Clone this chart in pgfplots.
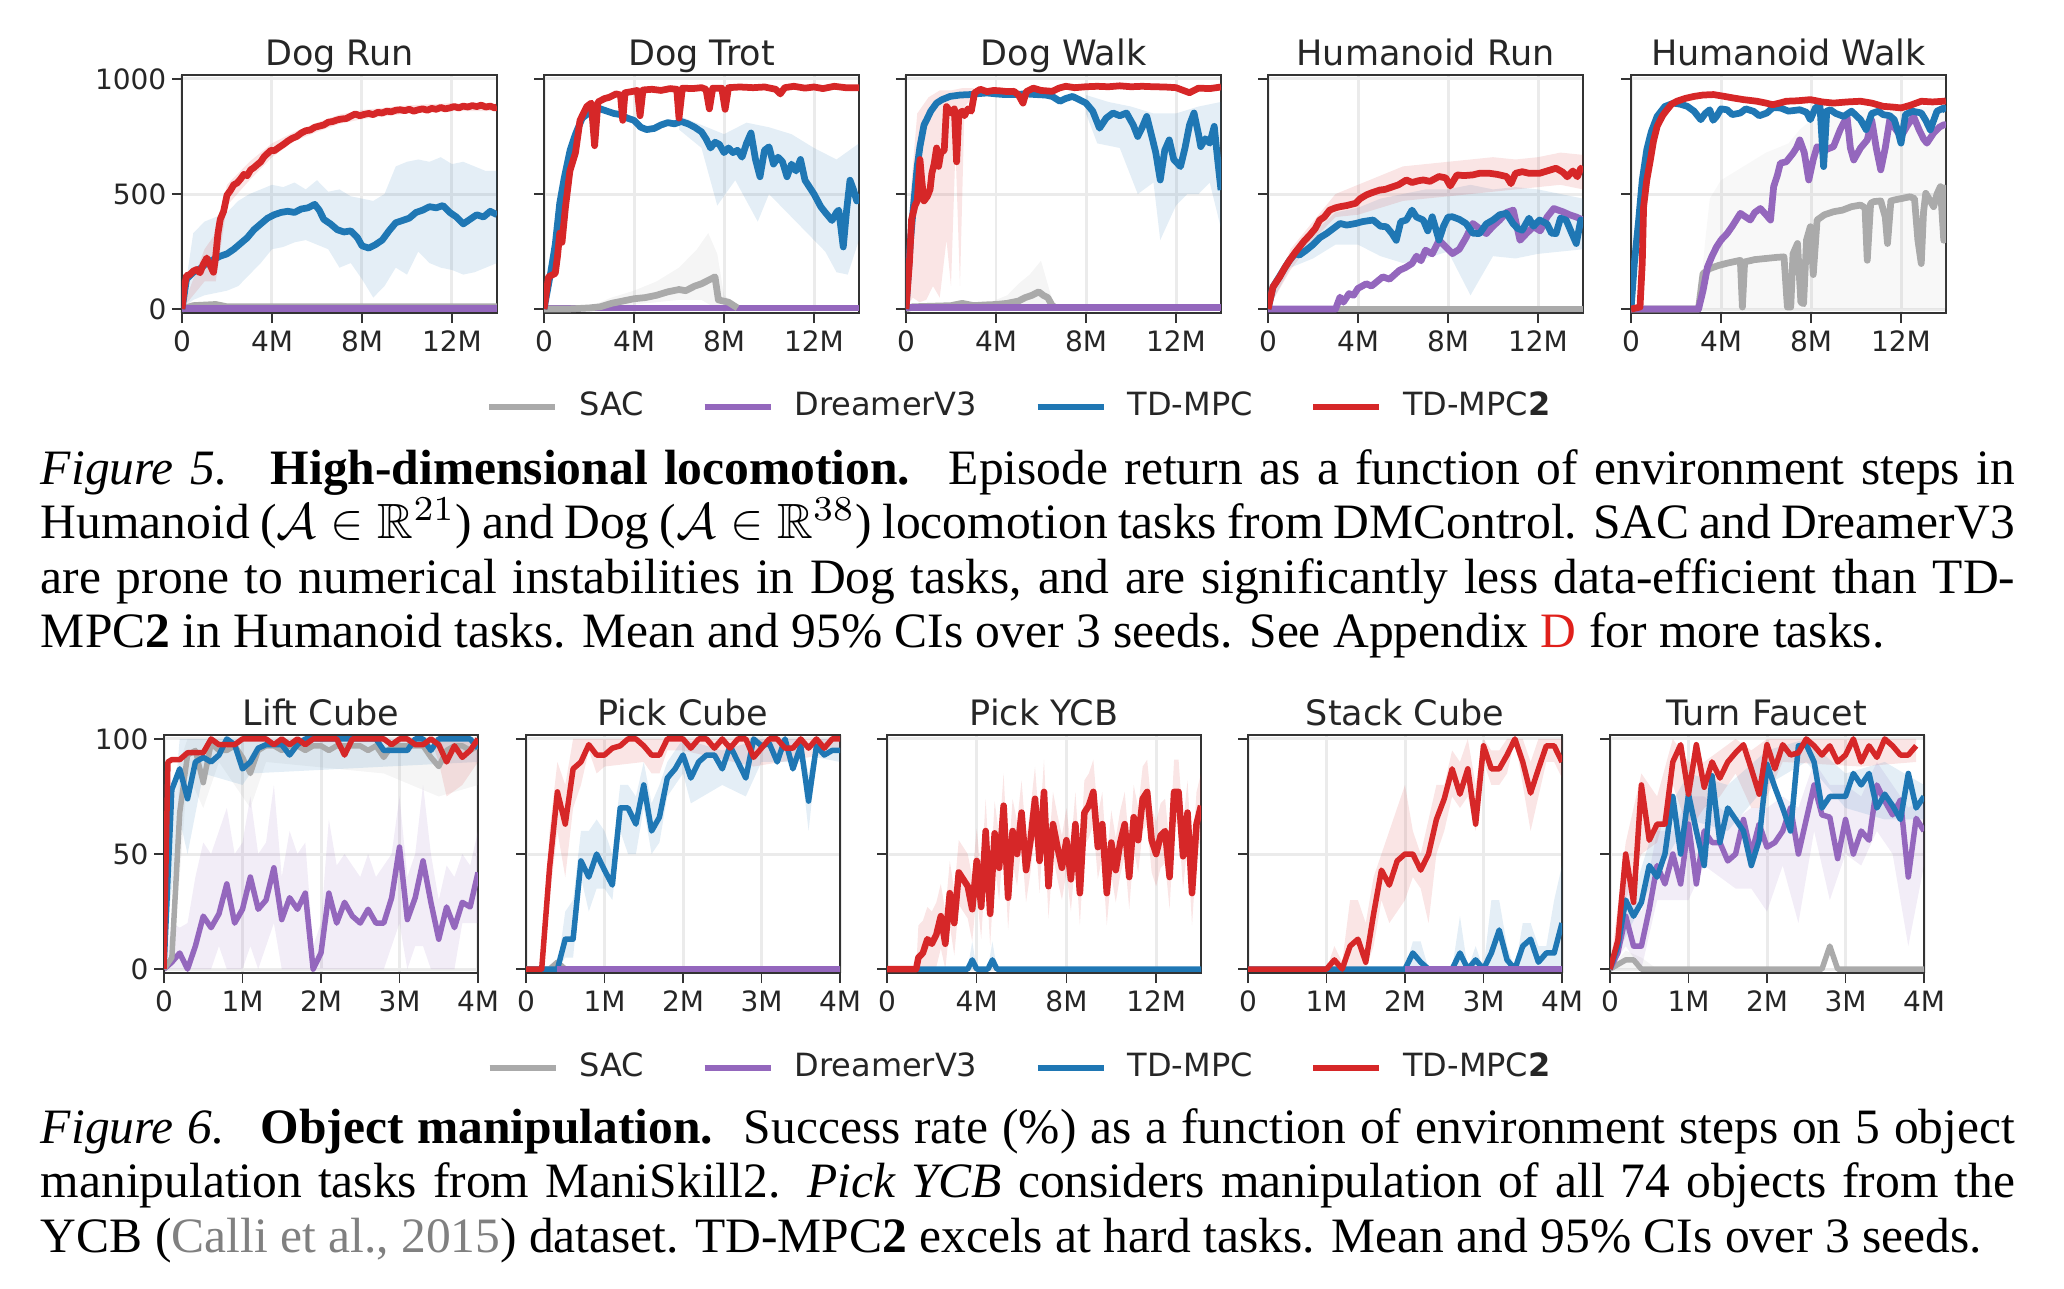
\documentclass[border=0pt]{standalone}
\usepackage{amssymb}
\usepackage{pgfplots}
\pgfplotsset{compat=1.18}
\usepackage{fontspec}
\setmainfont{Liberation Serif}
\newfontfamily\dejavu{DejaVu Sans}
\definecolor{cred}{HTML}{D62728}
\definecolor{cblue}{HTML}{1F77B4}
\definecolor{cpurple}{HTML}{9467BD}
\definecolor{cgray}{HTML}{AAAAAA}
\definecolor{txt}{HTML}{262626}
\definecolor{gridc}{HTML}{EBEBEB}
\definecolor{refred}{HTML}{E0201B}
\newcommand\tickf{\dejavu\fontsize{5.6}{6.7}\selectfont}
\newcommand\titf{\dejavu\fontsize{7.0}{8.4}\selectfont}
\newcommand\legf{\dejavu\fontsize{6.4}{7.7}\selectfont}
\newcommand\capf{\fontsize{9.9}{11.5}\selectfont}
\pgfplotsset{
  myax/.style={anchor=north west, scale only axis, height=47.6pt,
    axis line style={draw=black!80, line width=0.27pt},
    tick align=outside, tick pos=left, major tick length=2pt,
    tick style={draw=black!80, line width=0.27pt},
    grid=major, major grid style={draw=gridc, line width=0.6pt},
    ticklabel style={font=\tickf, text=txt},
    xticklabel style={yshift=2pt}, yticklabel style={xshift=2.4pt},
    every axis title shift=0pt,
    title style={font=\titf, text=txt, anchor=base, at={(0.5,1)}, yshift=2pt},
    legend image code/.code={\draw[##1,line width=1.2pt] (0pt,0pt) -- (13.2pt,0pt); \path[draw=none,fill=none] (0pt,0pt) -- (18pt,0pt);},
    legend columns=4, legend cell align=left},
  row1/.style={myax, width=63pt, xmin=0, xmax=14, ymin=-17, ymax=1017,
    xtick={0,4,8,12}, xticklabels={0,4M,8M,12M}, ytick={0,500,1000}, yticklabels={},
    every axis plot/.append style={line width=1.35pt, line join=round}},
  row2/.style={myax, width=62.8pt, xmin=0, xmax=4, ymin=-1.7, ymax=101.7,
    xtick={0,1,2,3,4}, xticklabels={0,1M,2M,3M,4M}, ytick={0,50,100}, yticklabels={},
    every axis plot/.append style={line width=1.1pt, line join=round}},
  band/.style={draw=none, fill=#1, fill opacity=0.12, forget plot},
  leg/.style={legend style={draw=none, fill=none, inner sep=0pt, outer sep=0pt, at={#1}, anchor=center,
    font=\legf, text=txt, nodes={inner sep=0pt, text=txt},
    /tikz/every even column/.append style={column sep=11.5pt}}},
}
\begin{document}
\begin{tikzpicture}
% ================= ROW 1 =================
\begin{axis}[row1, at={(36.4pt,-15pt)}, title={Dog Run}, yticklabels={0,500,1000}]
\addplot[band=cblue] coordinates {(0,0)(0.5,330)(1,380)(1.5,400)(2,420)(2.5,470)(3,500)(3.5,520)(4,540)(4.5,530)(5,550)(5.5,520)(6,560)(6.5,510)(7,520)(7.5,490)(8,480)(8.5,470)(9,500)(9.5,620)(10,640)(10.5,650)(11,640)(11.5,660)(12,630)(12.5,640)(13,620)(13.5,600)(14,600)(14,200)(13.5,180)(13,160)(12.5,150)(12,170)(11.5,180)(11,200)(10.5,250)(10,150)(9.5,180)(9,100)(8.5,50)(8,130)(7.5,200)(7,180)(6.5,260)(6,280)(5.5,300)(5,290)(4.5,270)(4,260)(3.5,200)(3,150)(2.5,100)(2,80)(1.5,70)(1,60)(0.5,40)(0,0)} --cycle;
\addplot[band=cred] coordinates {(0,0)(1,260)(1.5,330)(2,540)(3,640)(4,720)(5,770)(6,810)(7,845)(8,865)(10,885)(12,895)(14,890)(14,860)(12,860)(10,850)(8,825)(7,805)(6,770)(5,730)(4,660)(3,560)(2,450)(1.5,120)(1,120)(0,0)} --cycle;
\addplot[cgray, forget plot] coordinates {(0,0)(0.5,15)(1.5,20)(2,10)(14,10)};
\addplot[cpurple, forget plot] coordinates {(0,4)(14,4)};
\addplot[cblue, forget plot] coordinates {(0,0)(0.2,130)(0.5,160)(0.8,175)(1.1,200)(1.4,215)(1.7,230)(2.0,240)(2.3,260)(2.6,285)(2.9,310)(3.2,345)(3.5,370)(3.8,395)(4.1,410)(4.4,420)(4.7,425)(5.0,420)(5.3,435)(5.6,440)(5.9,455)(6.1,430)(6.3,390)(6.6,370)(6.9,345)(7.2,335)(7.5,340)(7.8,310)(8.0,275)(8.3,265)(8.6,280)(8.9,300)(9.2,340)(9.5,375)(9.8,385)(10.1,395)(10.4,420)(10.7,430)(11.0,445)(11.3,440)(11.6,450)(11.9,420)(12.2,400)(12.5,370)(12.8,390)(13.1,410)(13.4,400)(13.7,425)(14.0,410)};
\addplot[cred, forget plot] coordinates {(0,0)(0.1,95)(0.2,145)(0.35,150)(0.5,165)(0.65,172)(0.8,158)(0.95,195)(1.1,222)(1.25,190)(1.4,160)(1.5,230)(1.6,330)(1.7,390)(1.85,425)(2.0,495)(2.15,515)(2.3,540)(2.45,548)(2.6,565)(2.75,585)(2.9,580)(3.05,605)(3.2,615)(3.35,628)(3.5,640)(3.65,662)(3.8,676)(3.95,690)(4.1,688)(4.3,702)(4.5,715)(4.7,730)(4.9,742)(5.1,750)(5.3,765)(5.5,775)(5.7,778)(5.9,790)(6.1,795)(6.3,800)(6.5,812)(6.7,815)(6.9,822)(7.1,826)(7.3,828)(7.5,838)(7.7,848)(7.9,840)(8.1,846)(8.3,850)(8.5,845)(8.7,855)(8.9,852)(9.1,860)(9.3,857)(9.5,864)(9.7,866)(9.9,862)(10.1,868)(10.3,860)(10.5,866)(10.7,870)(10.9,864)(11.1,872)(11.3,868)(11.5,876)(11.7,870)(11.9,874)(12.1,880)(12.3,874)(12.5,882)(12.7,878)(12.9,884)(13.1,880)(13.3,886)(13.5,878)(13.7,882)(13.9,874)(14.0,878)};
\end{axis}

\begin{axis}[row1, at={(108.8pt,-15pt)}, title={Dog Trot}]
\addplot[band=cgray] coordinates {(2,10)(3,50)(4,80)(5,120)(6,180)(6.8,260)(7.3,330)(7.7,240)(8,60)(8.6,10)(8.6,0)(7.7,0)(7,40)(6,40)(5,30)(4,20)(3,5)(2,0)} --cycle;
\addplot[band=cblue] coordinates {(6,840)(7,800)(8,760)(9,810)(10,790)(11,760)(12,700)(13,650)(14,720)(14,300)(13.5,150)(13,160)(12.5,250)(12,300)(11,400)(10,500)(9.5,380)(8.5,560)(7.7,450)(7,700)(6,780)} --cycle;
\addplot[cpurple, forget plot] coordinates {(0,5)(14,5)};
\addplot[cgray, forget plot] coordinates {(0,0)(1,0)(2,5)(2.5,10)(3,25)(3.5,35)(4,45)(4.5,50)(5,60)(5.5,75)(6,85)(6.3,80)(6.7,100)(7.0,110)(7.3,125)(7.6,140)(7.75,40)(8.2,30)(8.6,5)};
\addplot[cblue, forget plot] coordinates {(0,0)(0.3,160)(0.5,280)(0.7,460)(0.9,570)(1.16,690)(1.4,760)(1.7,830)(1.9,845)(2.2,860)(2.5,870)(2.8,860)(3.1,850)(3.4,845)(3.7,830)(4.0,820)(4.3,790)(4.56,780)(4.9,785)(5.2,800)(5.5,810)(5.8,805)(6.1,815)(6.4,805)(6.7,790)(7.0,770)(7.2,740)(7.4,700)(7.6,725)(7.8,715)(8.0,680)(8.2,700)(8.4,680)(8.6,690)(8.8,660)(9.0,720)(9.2,765)(9.4,650)(9.6,575)(9.8,690)(10.0,705)(10.2,630)(10.4,660)(10.6,640)(10.8,575)(11.0,630)(11.2,600)(11.4,650)(11.6,560)(11.8,530)(12.0,500)(12.3,445)(12.5,420)(12.8,385)(13.0,420)(13.1,430)(13.2,350)(13.3,270)(13.45,430)(13.6,560)(13.75,520)(13.9,470)(14.0,500)};
\addplot[cred, forget plot] coordinates {(0,0)(0.2,140)(0.5,155)(0.6,230)(0.7,330)(0.8,290)(0.95,440)(1.15,600)(1.4,680)(1.6,820)(1.9,880)(2.1,895)(2.25,710)(2.4,900)(2.7,915)(2.9,920)(3.2,935)(3.4,930)(3.5,820)(3.6,940)(3.9,945)(4.15,950)(4.27,840)(4.4,952)(4.8,955)(5.2,950)(5.6,958)(5.9,955)(6.0,830)(6.15,960)(6.6,958)(7.0,962)(7.2,955)(7.35,870)(7.5,960)(7.9,960)(8.05,868)(8.2,962)(8.7,965)(9.3,962)(9.8,965)(10.3,955)(10.5,935)(10.7,962)(11.1,968)(11.6,960)(12.0,965)(12.4,958)(12.9,968)(13.4,962)(14.0,962)};
\end{axis}

\begin{axis}[row1, at={(181.2pt,-15pt)}, title={Dog Walk}, leg={(0.357,-0.395)}]
\addlegendimage{cgray}\addlegendentry{SAC}
\addlegendimage{cpurple}\addlegendentry{DreamerV3}
\addlegendimage{cblue}\addlegendentry{TD-MPC}
\addlegendimage{cred}\addlegendentry{TD-MPC\textbf{2}}
\addplot[band=cred] coordinates {(0,0)(0.2,500)(0.5,850)(1,920)(1.5,950)(2,950)(2.5,960)(3,960)(3,920)(2.6,880)(2.4,100)(2.2,700)(2.0,100)(1.8,300)(1.5,50)(1.2,100)(0.9,40)(0.6,30)(0.3,50)(0,0)} --cycle;
\addplot[band=cblue] coordinates {(8,930)(9,900)(10,880)(11,850)(12,850)(13,880)(14,900)(14,350)(13.5,550)(13,500)(12.5,500)(12,450)(11.3,300)(11,550)(10.3,500)(9.5,700)(8.5,720)(8,850)} --cycle;
\addplot[band=cgray] coordinates {(3.5,20)(4.5,60)(5,110)(5.5,150)(6,210)(6.5,40)(6.5,5)(5,10)(3.5,5)} --cycle;
\addplot[cgray, forget plot] coordinates {(0,0)(0.3,10)(1,12)(2,15)(2.5,25)(3,15)(3.5,18)(4,20)(4.5,25)(5,35)(5.3,50)(5.6,60)(5.9,75)(6.1,60)(6.3,50)(6.5,15)(6.6,10)};
\addplot[cpurple, forget plot] coordinates {(0,8)(14,8)};
\addplot[cblue, forget plot] coordinates {(0,0)(0.2,300)(0.33,445)(0.5,620)(0.62,706)(0.8,800)(0.92,823)(1.1,860)(1.36,895)(1.6,910)(1.96,924)(2.4,930)(2.84,932)(3.2,936)(3.6,939)(4.0,935)(4.4,932)(4.8,932)(5.3,935)(5.8,932)(6.2,930)(6.5,924)(6.84,903)(7.1,915)(7.4,924)(7.7,910)(8.0,895)(8.3,860)(8.6,786)(8.9,830)(9.2,852)(9.5,840)(9.8,852)(10.1,800)(10.3,750)(10.5,790)(10.7,837)(10.9,760)(11.1,680)(11.3,561)(11.5,690)(11.7,735)(11.9,650)(12.2,619)(12.4,700)(12.6,800)(12.8,852)(13.0,760)(13.1,706)(13.3,740)(13.5,721)(13.7,794)(13.85,650)(14.0,517)};
\addplot[cred, forget plot] coordinates {(0,0)(0.15,200)(0.25,390)(0.4,450)(0.5,470)(0.62,650)(0.7,560)(0.8,470)(0.95,490)(1.07,520)(1.15,590)(1.25,630)(1.36,700)(1.45,620)(1.55,680)(1.7,690)(1.8,880)(1.95,860)(2.05,850)(2.15,870)(2.25,640)(2.35,850)(2.5,860)(2.6,840)(2.75,870)(2.9,860)(3.05,940)(3.3,955)(3.6,945)(3.9,950)(4.2,948)(4.5,945)(4.8,946)(5.0,930)(5.2,895)(5.35,945)(5.66,960)(6.0,950)(6.5,946)(6.8,960)(7.1,968)(7.5,962)(8.0,966)(8.5,968)(9.0,966)(9.5,970)(10.0,966)(10.5,968)(11.0,966)(11.5,965)(12.0,962)(12.6,940)(13.0,960)(13.5,958)(14.0,965)};
\end{axis}

\begin{axis}[row1, at={(253.6pt,-15pt)}, title={Humanoid Run}]
\addplot[band=cblue] coordinates {(0,0)(1,240)(2,330)(3,420)(4,440)(5,480)(6,500)(7,520)(8,520)(9,540)(10,520)(11,530)(12,520)(13,500)(14,480)(14,260)(13,250)(12,240)(11,220)(10,230)(9,60)(8,250)(7,220)(6,200)(5,230)(4,280)(3,280)(2,220)(1,180)(0,0)} --cycle;
\addplot[band=cred] coordinates {(0,0)(1,260)(2,380)(3,500)(4,540)(5,580)(6,620)(7,630)(8,640)(9,650)(10,660)(11,650)(12,660)(13,680)(14,670)(14,520)(13,540)(12,530)(11,520)(10,510)(9,500)(8,490)(7,480)(6,470)(5,440)(4,410)(3,400)(2,300)(1,170)(0,0)} --cycle;
\addplot[cgray, forget plot] coordinates {(0,0)(14,0)};
\addplot[cpurple, forget plot] coordinates {(0,0)(3.0,0)(3.2,52)(3.35,30)(3.6,67)(3.8,60)(4.0,90)(4.37,110)(4.6,100)(5.1,140)(5.4,130)(5.85,169)(6.1,180)(6.4,198)(6.6,230)(6.8,210)(7.0,256)(7.3,240)(7.6,299)(7.9,270)(8.2,241)(8.5,260)(8.8,310)(9.1,372)(9.4,350)(9.7,328)(10.0,360)(10.3,387)(10.6,420)(10.9,430)(11.2,299)(11.5,330)(11.8,358)(12.1,340)(12.4,400)(12.7,437)(13.1,423)(13.4,410)(13.7,400)(14.0,387)};
\addplot[cblue, forget plot] coordinates {(0,0)(0.22,96)(0.5,140)(0.75,180)(0.96,212)(1.2,240)(1.4,235)(1.7,256)(2.0,280)(2.3,310)(2.6,328)(2.9,350)(3.2,372)(3.5,365)(3.9,372)(4.2,380)(4.67,387)(5.0,360)(5.26,358)(5.5,330)(5.7,299)(5.9,380)(6.15,387)(6.4,430)(6.6,400)(6.9,387)(7.1,340)(7.3,401)(7.6,300)(7.8,360)(8.0,400)(8.2,401)(8.5,390)(8.8,372)(9.1,330)(9.4,328)(9.7,370)(10.0,387)(10.3,410)(10.6,416)(10.9,370)(11.1,350)(11.3,343)(11.6,395)(11.8,360)(12.07,387)(12.4,370)(12.6,330)(12.8,328)(13.0,395)(13.25,387)(13.5,330)(13.7,285)(13.9,387)(14.0,370)};
\addplot[cred, forget plot] coordinates {(0,0)(0.22,96)(0.52,140)(0.75,180)(0.96,212)(1.2,245)(1.4,270)(1.6,295)(1.85,321)(2.1,350)(2.3,387)(2.5,400)(2.74,430)(3.0,440)(3.2,445)(3.5,450)(3.9,460)(4.1,480)(4.37,496)(4.6,505)(4.96,517)(5.2,520)(5.56,532)(5.8,540)(6.15,561)(6.4,550)(6.7,558)(6.9,561)(7.2,555)(7.6,576)(7.9,570)(8.1,535)(8.4,583)(8.7,580)(9.1,583)(9.4,590)(9.85,590)(10.2,585)(10.6,576)(10.8,545)(11.0,590)(11.3,597)(11.6,590)(12.07,590)(12.4,600)(12.8,612)(13.1,595)(13.3,575)(13.55,600)(13.75,575)(13.9,612)(14.0,600)};
\end{axis}

\begin{axis}[row1, at={(326.2pt,-15pt)}, title={Humanoid Walk}]
\addplot[draw=none, fill=cgray, fill opacity=0.08, forget plot] coordinates {(3,0)(3.3,300)(3.5,480)(4,560)(5,620)(6,680)(7,720)(7.5,780)(8,820)(9,850)(10,860)(11,880)(12,870)(13,880)(14,880)(14,0)(3,0)} --cycle;
\addplot[cgray, forget plot] coordinates {(0,0)(3.0,0)(3.2,154)(3.5,176)(3.9,190)(4.3,200)(4.86,212)(4.95,9)(5.05,205)(5.5,215)(6.0,220)(6.5,225)(6.8,227)(6.95,9)(7.1,9)(7.2,240)(7.4,285)(7.55,30)(7.67,23)(7.8,300)(7.97,358)(8.1,150)(8.27,387)(8.6,410)(9.0,423)(9.4,430)(9.8,445)(10.2,452)(10.4,440)(10.5,212)(10.65,460)(10.8,467)(11.1,470)(11.3,400)(11.4,285)(11.55,470)(11.7,474)(12.0,480)(12.4,488)(12.6,480)(12.75,300)(12.9,198)(13.0,420)(13.1,503)(13.3,470)(13.45,445)(13.6,500)(13.75,532)(13.9,299)(14.0,540)};
\addplot[cpurple, forget plot] coordinates {(0,0)(3.0,0)(3.2,80)(3.4,183)(3.6,230)(3.8,270)(4.0,300)(4.27,328)(4.5,360)(4.86,416)(5.1,400)(5.3,387)(5.5,420)(5.75,437)(6.0,410)(6.2,387)(6.34,532)(6.5,580)(6.64,634)(6.9,640)(7.2,677)(7.35,700)(7.5,735)(7.7,680)(7.9,561)(8.1,650)(8.27,706)(8.6,690)(9.0,706)(9.3,780)(9.6,837)(9.75,700)(9.9,648)(10.2,700)(10.5,735)(10.7,820)(10.9,700)(11.1,605)(11.3,700)(11.5,823)(11.7,790)(12.0,750)(12.3,800)(12.56,837)(12.8,780)(13.0,740)(13.15,721)(13.45,765)(13.7,790)(13.9,801)(14.0,800)};
\addplot[cblue, forget plot] coordinates {(0,0)(0.15,200)(0.34,387)(0.5,560)(0.7,692)(0.9,770)(1.16,837)(1.5,880)(1.9,895)(2.2,890)(2.5,881)(2.8,860)(3.1,823)(3.3,850)(3.5,866)(3.65,820)(3.8,837)(4.0,870)(4.27,866)(4.5,845)(4.86,852)(5.1,870)(5.45,859)(5.7,840)(6.04,852)(6.3,875)(6.64,874)(7.0,860)(7.5,866)(7.8,855)(7.97,823)(8.2,875)(8.4,881)(8.56,619)(8.7,860)(8.86,866)(9.1,850)(9.45,837)(9.8,860)(10.2,823)(10.45,780)(10.7,850)(11.0,860)(11.2,845)(11.5,840)(11.7,823)(11.9,760)(12.0,721)(12.2,845)(12.5,860)(12.9,852)(13.1,820)(13.3,779)(13.6,860)(13.9,874)(14.0,860)};
\addplot[cred, forget plot] coordinates {(0,0)(0.4,9)(0.5,200)(0.56,445)(0.7,560)(0.86,648)(1.0,730)(1.16,794)(1.4,840)(1.6,866)(1.8,890)(2.04,903)(2.4,915)(2.8,924)(3.2,930)(3.67,932)(4.1,925)(4.56,917)(5.0,910)(5.6,903)(6.0,895)(6.3,888)(6.6,895)(6.9,903)(7.4,905)(7.97,910)(8.5,900)(9.0,895)(9.6,900)(10.2,903)(10.7,895)(11.2,881)(11.6,878)(12.0,874)(12.4,885)(12.9,903)(13.4,900)(13.9,903)(14.0,905)};
\end{axis}

% ================= ROW 2 =================
\begin{axis}[row2, at={(32.8pt,-147pt)}, title={Lift Cube}, yticklabels={0,50,100}]
\addplot[band=cpurple] coordinates {(0,0)(0.1,20)(0.2,18)(0.3,20)(0.4,40)(0.5,55)(0.6,50)(0.7,60)(0.8,70)(0.9,50)(1.0,55)(1.1,75)(1.2,50)(1.3,55)(1.4,80)(1.5,40)(1.6,60)(1.7,50)(1.8,55)(1.9,10)(2.0,20)(2.1,65)(2.2,45)(2.3,50)(2.4,45)(2.5,40)(2.6,50)(2.7,40)(2.8,45)(2.9,50)(3.0,75)(3.1,40)(3.2,50)(3.3,80)(3.4,50)(3.5,30)(3.6,45)(3.7,40)(3.8,50)(3.9,45)(4.0,60)(4.0,20)(3.9,20)(3.8,20)(3.7,0)(3.6,0)(3.5,0)(3.4,0)(3.3,10)(3.2,10)(3.1,0)(3.0,20)(2.9,10)(2.8,0)(2.0,0)(1.5,0)(1.4,20)(1.3,10)(1.2,0)(1.1,10)(1.0,0)(0.8,0)(0.7,10)(0.6,0)(0,0)} --cycle;
\addplot[band=cgray] coordinates {(0.1,5)(0.2,90)(0.3,100)(4,100)(4,80)(3.5,75)(2.8,85)(1.3,90)(1.1,70)(0.7,90)(0.5,70)(0.3,85)(0.2,40)(0.1,0)} --cycle;
\addplot[band=cblue] coordinates {(0.05,40)(0.2,100)(1,100)(4,100)(4,90)(1.1,85)(1,80)(0.5,85)(0.3,50)(0.2,65)(0.05,20)} --cycle;
\addplot[band=cred] coordinates {(3.4,100)(4,100)(4,90)(3.8,80)(3.6,75)(3.5,90)(3.4,100)} --cycle;
\addplot[cpurple, forget plot] coordinates {(0,0)(0.1,3)(0.2,7)(0.3,0)(0.4,10)(0.5,23)(0.6,18)(0.7,24)(0.8,37)(0.9,20)(1.0,26)(1.1,40)(1.2,26)(1.3,30)(1.4,44)(1.5,21.5)(1.6,31)(1.7,26)(1.8,33)(1.9,0)(2.0,7)(2.1,33)(2.2,20)(2.3,29)(2.4,23)(2.5,20)(2.6,26)(2.7,20)(2.8,20)(2.9,31)(3.0,53)(3.1,21.5)(3.2,31)(3.3,47)(3.4,29)(3.5,13)(3.6,27)(3.7,18)(3.8,29)(3.9,27)(4.0,42)};
\addplot[cgray, forget plot] coordinates {(0,0)(0.1,5)(0.2,68)(0.3,93)(0.4,95)(0.5,81)(0.6,98)(0.7,95)(0.8,95)(0.9,97)(1.0,92)(1.1,85)(1.2,95)(1.3,97)(1.4,97)(1.5,95)(1.6,97)(1.7,97)(1.8,95)(1.9,97)(2.0,97)(2.1,95)(2.2,97)(2.3,97)(2.4,97)(2.5,97)(2.6,95)(2.7,97)(2.8,92)(2.9,97)(3.0,97)(3.1,97)(3.2,97)(3.3,97)(3.4,92)(3.5,88)(3.6,95)(3.7,97)(3.8,97)(3.9,95)(4.0,97)};
\addplot[cblue, forget plot] coordinates {(0,0)(0.1,78)(0.2,87)(0.3,74)(0.4,90)(0.5,92)(0.6,90)(0.7,93)(0.8,100)(0.9,97.5)(1.0,87)(1.1,90)(1.2,96)(1.3,97.5)(1.4,97.5)(1.5,97.5)(1.6,93)(1.7,97.5)(1.8,100)(1.9,100)(2.0,100)(2.1,100)(2.2,100)(2.3,100)(2.4,100)(2.5,100)(2.6,100)(2.7,100)(2.8,95)(2.9,95)(3.0,95)(3.1,95)(3.2,100)(3.3,100)(3.4,95)(3.5,100)(3.6,100)(3.7,100)(3.8,100)(3.9,100)(4.0,96)};
\addplot[cred, forget plot] coordinates {(0,0)(0.05,90)(0.1,91)(0.2,91)(0.3,94)(0.4,94)(0.5,94)(0.6,100)(0.7,97.5)(0.8,97.5)(0.9,97.5)(1.0,100)(1.1,100)(1.2,100)(1.3,100)(1.4,97.5)(1.5,100)(1.6,97.5)(1.7,100)(1.8,97.5)(1.9,100)(2.0,100)(2.1,100)(2.2,100)(2.3,93)(2.4,100)(2.5,100)(2.6,100)(2.7,100)(2.8,100)(2.9,97.5)(3.0,100)(3.1,100)(3.2,97.5)(3.3,97.5)(3.4,100)(3.5,97.5)(3.6,90)(3.7,97)(3.8,92)(3.9,95)(4.0,100)};
\end{axis}

\begin{axis}[row2, at={(105.2pt,-147pt)}, title={Pick Cube}]
\addplot[band=cred] coordinates {(0.2,0)(0.3,60)(0.4,90)(0.5,80)(0.6,100)(4,100)(4,95)(3.6,92)(2.9,88)(2.0,95)(1.8,95)(1.7,85)(1.6,85)(1.5,90)(1.0,88)(0.9,85)(0.8,95)(0.7,80)(0.6,70)(0.5,40)(0.4,60)(0.3,30)(0.2,0)} --cycle;
\addplot[band=cblue] coordinates {(0.4,0)(0.5,25)(0.6,30)(0.7,60)(0.8,60)(0.9,65)(1.0,60)(1.1,50)(1.2,80)(1.3,80)(1.4,75)(1.5,90)(1.6,72)(1.7,80)(1.8,90)(1.9,95)(2.0,100)(2.5,95)(3.0,100)(3.5,100)(3.6,85)(3.7,100)(4,100)(4,90)(3.7,92)(3.6,60)(3.5,90)(3.0,90)(2.8,75)(2.5,80)(2.1,72)(2.0,85)(1.9,80)(1.8,75)(1.7,55)(1.6,50)(1.5,70)(1.4,50)(1.3,50)(1.2,60)(1.1,30)(1.0,35)(0.9,35)(0.8,25)(0.7,40)(0.6,5)(0.5,5)(0.4,0)} --cycle;
\addplot[cgray, forget plot] coordinates {(0,0)(0.3,0)(0.4,3)(0.5,0)(4,0)};
\addplot[cblue, forget plot] coordinates {(0,0)(0.4,0)(0.5,13)(0.6,13)(0.7,47)(0.8,40)(0.9,50)(1.0,43)(1.1,36.5)(1.2,70)(1.3,70)(1.4,63)(1.5,80)(1.6,60)(1.7,66)(1.8,83)(1.9,87)(2.0,93)(2.1,83)(2.2,90)(2.3,93)(2.4,93)(2.5,87)(2.6,97)(2.7,90)(2.8,83)(2.9,100)(3.0,97)(3.1,98)(3.2,90)(3.3,100)(3.4,87)(3.5,97)(3.6,73)(3.7,97)(3.8,93)(3.9,95)(4.0,95)};
\addplot[cpurple, forget plot] coordinates {(0.4,0)(4,0)};
\addplot[cred, forget plot] coordinates {(0,0)(0.1,0)(0.2,0)(0.3,44)(0.4,77)(0.5,63)(0.6,87)(0.7,90)(0.8,97.5)(0.9,93)(1.0,93)(1.1,96)(1.2,97)(1.3,100)(1.4,100)(1.5,97)(1.6,93)(1.7,93)(1.8,100)(1.9,100)(2.0,100)(2.1,96)(2.2,100)(2.3,100)(2.4,96)(2.5,100)(2.6,96)(2.7,100)(2.8,100)(2.9,92)(3.0,96)(3.1,100)(3.2,100)(3.3,96)(3.4,96)(3.5,100)(3.6,96)(3.7,100)(3.8,96)(3.9,100)(4.0,100)};
\end{axis}

\begin{axis}[row2, at={(177.4pt,-147pt)}, title={Pick YCB}, xmax=14, xtick={0,4,8,12}, xticklabels={0,4M,8M,12M}, leg={(0.419,-0.399)}]
\addlegendimage{cgray}\addlegendentry{SAC}
\addlegendimage{cpurple}\addlegendentry{DreamerV3}
\addlegendimage{cblue}\addlegendentry{TD-MPC}
\addlegendimage{cred}\addlegendentry{TD-MPC\textbf{2}}
\addplot[band=cred] coordinates {(1.3,0)(1.4,19)(1.6,21)(1.8,27)(2.0,25)(2.2,29)(2.4,37)(2.6,25)(2.8,47)(3.0,34)(3.2,56)(3.4,53)(3.6,50)(3.8,40)(4.0,61)(4.2,41)(4.4,74)(4.6,38)(4.8,73)(5.0,58)(5.2,85)(5.4,45)(5.6,74)(5.8,64)(6.0,82)(6.2,57)(6.4,70)(6.6,88)(6.8,61)(7.0,91)(7.2,50)(7.4,77)(7.6,67)(7.8,58)(8.0,70)(8.2,53)(8.4,77)(8.6,47)(8.8,82)(9.0,85)(9.2,91)(9.4,67)(9.6,77)(9.8,47)(10.0,69)(10.2,57)(10.4,69)(10.6,77)(10.8,54)(11.0,80)(11.2,70)(11.4,88)(11.6,91)(11.8,70)(12.0,64)(12.2,72)(12.4,74)(12.6,54)(12.8,91)(13.0,91)(13.2,63)(13.4,82)(13.6,47)(13.8,77)(14.0,85)(14.0,57)(13.8,49)(13.6,19)(13.4,54)(13.2,35)(13.0,63)(12.8,63)(12.6,26)(12.4,46)(12.2,44)(12.0,36)(11.8,42)(11.6,63)(11.4,60)(11.2,42)(11.0,52)(10.8,26)(10.6,49)(10.4,41)(10.2,29)(10.0,41)(9.8,19)(9.6,49)(9.4,39)(9.2,63)(9.0,57)(8.8,54)(8.6,19)(8.4,49)(8.2,25)(8.0,42)(7.8,30)(7.6,39)(7.4,49)(7.2,22)(7.0,63)(6.8,33)(6.6,60)(6.4,42)(6.2,29)(6.0,54)(5.8,36)(5.6,46)(5.4,17)(5.2,57)(5.0,30)(4.8,45)(4.6,10)(4.4,46)(4.2,13)(4.0,33)(3.8,12)(3.6,22)(3.4,25)(3.2,28)(3.0,6)(2.8,19)(2.6,0)(2.4,9)(2.2,1)(2.0,0)(1.3,0)} --cycle;
\addplot[band=cblue] coordinates {(3.6,0)(3.8,12)(4.0,0)(4.5,0)(4.7,12)(4.9,0)} --cycle;
\addplot[cblue, forget plot] coordinates {(0,0)(3.6,0)(3.8,4)(4.0,0)(4.5,0)(4.7,4)(4.9,0)(14,0)};
\addplot[cred, forget plot, line width=1.3pt] coordinates {(0,0)(1.3,0)(1.4,5)(1.6,7)(1.8,13)(2.0,11)(2.2,15)(2.4,23)(2.6,11)(2.8,33)(3.0,20)(3.2,42)(3.4,39)(3.6,36)(3.8,26)(4.0,47)(4.2,27)(4.4,60)(4.6,24)(4.8,59)(5.0,44)(5.2,71)(5.4,31)(5.6,60)(5.8,50)(6.0,68)(6.2,43)(6.4,56)(6.6,74)(6.8,47)(7.0,77)(7.2,36)(7.4,63)(7.6,53)(7.8,44)(8.0,56)(8.2,39)(8.4,63)(8.6,33)(8.8,68)(9.0,71)(9.2,77)(9.4,53)(9.6,63)(9.8,33)(10.0,55)(10.2,43)(10.4,55)(10.6,63)(10.8,40)(11.0,66)(11.2,56)(11.4,74)(11.6,77)(11.8,56)(12.0,50)(12.2,58)(12.4,60)(12.6,40)(12.8,77)(13.0,77)(13.2,49)(13.4,68)(13.6,33)(13.8,63)(14.0,71)};
\end{axis}

\begin{axis}[row2, at={(249.6pt,-147pt)}, title={Stack Cube}]
\addplot[band=cred] coordinates {(1.0,0)(1.1,10)(1.2,3)(1.3,30)(1.4,30)(1.5,20)(1.6,40)(1.7,50)(1.8,60)(1.9,70)(2.0,80)(2.1,60)(2.2,50)(2.3,65)(2.4,80)(2.5,80)(2.6,95)(2.7,90)(2.8,100)(2.9,80)(3.0,100)(3.1,95)(3.2,95)(3.3,100)(3.4,100)(3.5,100)(3.6,90)(3.7,100)(3.8,100)(3.9,100)(4.0,100)(4.0,83)(3.9,90)(3.8,90)(3.7,75)(3.6,60)(3.5,80)(3.4,100)(3.3,85)(3.2,80)(3.1,80)(3.0,90)(2.9,60)(2.8,75)(2.7,70)(2.6,75)(2.5,60)(2.4,50)(2.3,20)(2.2,35)(2.1,40)(2.0,30)(1.9,25)(1.8,20)(1.7,30)(1.6,10)(1.5,0)(1.0,0)} --cycle;
\addplot[band=cblue] coordinates {(2.0,0)(2.1,12)(2.2,12)(2.3,0)(2.6,0)(2.7,23)(2.8,0)(2.9,10)(3.0,0)(3.1,30)(3.2,30)(3.3,10)(3.4,0)(3.5,20)(3.6,20)(3.7,10)(3.8,10)(3.9,30)(4.0,45)(4.0,0)} --cycle;
\addplot[cblue, forget plot] coordinates {(0,0)(2.0,0)(2.1,7)(2.2,3)(2.3,0)(2.6,0)(2.7,7)(2.8,0)(2.9,4)(3.0,0)(3.1,7)(3.2,17)(3.3,4)(3.4,0)(3.5,10)(3.6,13)(3.7,3)(3.8,7)(3.9,7)(4.0,20)};
\addplot[cpurple, forget plot] coordinates {(2.0,0)(2.3,0)(2.6,0)(2.8,0)(3.0,0)(3.4,0)(4.0,0)};
\addplot[cred, forget plot] coordinates {(0,0)(1.0,0)(1.1,4)(1.2,0)(1.3,10)(1.4,13)(1.5,3)(1.6,24)(1.7,43)(1.8,36.5)(1.9,47)(2.0,50)(2.1,50)(2.2,43)(2.3,50)(2.4,65)(2.5,74)(2.6,87)(2.7,76)(2.8,87)(2.9,63)(3.0,97)(3.1,87)(3.2,87)(3.3,93)(3.4,100)(3.5,90)(3.6,76.5)(3.7,87)(3.8,97)(3.9,97)(4.0,90)};
\end{axis}

\begin{axis}[row2, at={(322pt,-147pt)}, title={Turn Faucet}]
\addplot[band=cpurple] coordinates {(0,0)(0.2,40)(0.4,25)(0.6,60)(0.8,60)(1.0,75)(1.2,75)(1.4,70)(1.6,65)(1.8,70)(2.0,70)(2.2,75)(2.4,70)(2.6,90)(2.8,80)(3.0,80)(3.2,75)(3.4,90)(3.6,80)(3.8,70)(4.0,75)(4.0,45)(3.8,10)(3.6,50)(3.4,60)(3.2,45)(3.0,50)(2.8,30)(2.6,60)(2.4,20)(2.2,45)(2.0,25)(1.8,35)(1.6,35)(1.4,40)(1.2,45)(1.0,30)(0.8,30)(0.6,30)(0.4,0)(0.2,10)(0,0)} --cycle;
\addplot[band=cred] coordinates {(0,0)(0.2,55)(0.4,85)(0.6,75)(0.8,100)(1.0,90)(1.2,90)(1.4,95)(1.6,100)(1.8,95)(2.0,100)(3.9,100)(3.9,90)(3.2,88)(2.2,90)(2.0,75)(1.9,70)(1.8,70)(1.6,85)(1.4,75)(1.2,70)(1.0,60)(0.8,80)(0.6,55)(0.4,50)(0.2,30)(0,0)} --cycle;
\addplot[band=cblue] coordinates {(0,0)(0.5,55)(1.0,85)(1.5,80)(2.0,95)(2.5,100)(3.0,85)(3.5,90)(4.0,80)(4.0,65)(3.5,65)(3.0,70)(2.5,90)(2.0,80)(1.5,60)(1.0,65)(0.5,35)(0,0)} --cycle;
\addplot[band=cgray] coordinates {(0,0)(0.2,8)(0.4,5)(0.6,0)} --cycle;
\addplot[cgray, forget plot] coordinates {(0,0)(0.1,2)(0.2,4)(0.3,4)(0.4,0)(2.7,0)(2.8,10)(2.9,0)(4.0,0)};
\addplot[cpurple, forget plot] coordinates {(0,0)(0.1,7)(0.2,23)(0.3,10)(0.4,10)(0.5,26)(0.6,45)(0.7,37)(0.8,50)(0.9,37)(1.0,63)(1.1,37)(1.2,60)(1.3,55)(1.4,55)(1.5,47)(1.6,50)(1.7,65)(1.8,50)(1.9,63)(2.0,53)(2.1,55)(2.2,60)(2.3,70)(2.4,50)(2.5,65)(2.6,80)(2.7,67)(2.8,66)(2.9,48)(3.0,65)(3.1,50)(3.2,60)(3.3,56)(3.4,80)(3.5,73)(3.6,67)(3.7,73.5)(3.8,40)(3.9,65.5)(4.0,60)};
\addplot[cblue, forget plot] coordinates {(0,0)(0.1,10)(0.2,30)(0.3,23)(0.4,29)(0.5,45)(0.6,40)(0.7,50)(0.8,75)(0.9,50)(1.0,76)(1.1,60)(1.2,45)(1.3,84)(1.4,55)(1.5,70)(1.6,65)(1.7,60)(1.8,45)(1.9,56)(2.0,89)(2.1,79)(2.2,70)(2.3,60)(2.4,97)(2.5,97.5)(2.6,90)(2.7,70)(2.8,75)(2.9,75)(3.0,75)(3.1,85)(3.2,80)(3.3,85)(3.4,70)(3.5,76)(3.6,71)(3.7,65)(3.8,85)(3.9,70)(4.0,75)};
\addplot[cred, forget plot] coordinates {(0,0)(0.1,12.5)(0.2,50)(0.3,29)(0.4,80)(0.5,56)(0.6,63)(0.7,63)(0.8,90)(0.9,97.5)(1.0,76)(1.1,97.5)(1.2,79)(1.3,90)(1.4,83)(1.5,90)(1.6,94)(1.7,97.5)(1.8,87)(1.9,76)(2.0,97.5)(2.1,87)(2.2,97.5)(2.3,93)(2.4,94)(2.5,100)(2.6,97)(2.7,93)(2.8,97)(2.9,90)(3.0,93)(3.1,100)(3.2,90)(3.3,97)(3.4,92)(3.5,100)(3.6,97)(3.7,93)(3.8,93)(3.9,97)};
\end{axis}

% ================= CAPTIONS =================
\begin{scope}[every node/.style={anchor=base west, inner sep=0pt, font=\capf}]
\node at (8pt,-96.8pt) {\makebox[394.8pt][s]{\textit{Figure 5.}\hspace{0.3em} \textbf{High-dimensional locomotion.}\hspace{0.2em} Episode return as a function of environment steps in}};
\node at (8pt,-107.7pt) {\makebox[394.8pt][s]{Humanoid ($\mathcal{A}\in\mathbb{R}^{21}$) and Dog ($\mathcal{A}\in\mathbb{R}^{38}$) locomotion tasks from DMControl. SAC and DreamerV3}};
\node at (8pt,-118.6pt) {\makebox[394.8pt][s]{are prone to numerical instabilities in Dog tasks, and are significantly less data-efficient than TD-}};
\node at (8pt,-129.5pt) {MPC\textbf{2} in Humanoid tasks. Mean and 95\% CIs over 3 seeds. See Appendix {\color{refred}D} for more tasks.};
\node at (8pt,-228.6pt) {\makebox[394.8pt][s]{\textit{Figure 6.}\hspace{0.3em} \textbf{Object manipulation.}\hspace{0.2em} Success rate (\%) as a function of environment steps on 5 object}};
\node at (8pt,-239.5pt) {\makebox[394.8pt][s]{manipulation tasks from ManiSkill2. \textit{Pick YCB} considers manipulation of all 74 objects from the}};
\node at (8pt,-250.4pt) {YCB ({\color{gray}Calli et al., 2015}) dataset. TD-MPC\textbf{2} excels at hard tasks. Mean and 95\% CIs over 3 seeds.};
\end{scope}
\pgfresetboundingbox
\useasboundingbox (0,0) rectangle (412.8pt,-257.6pt);
\end{tikzpicture}
\end{document}
